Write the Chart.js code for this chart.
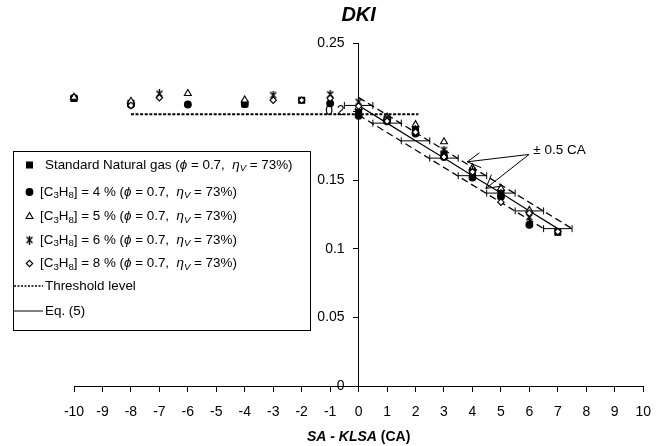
<!DOCTYPE html>
<html>
<head>
<meta charset="utf-8">
<script src="https://cdn.jsdelivr.net/npm/chart.js@4.4.1/dist/chart.umd.min.js"></script>
<style>
  html, body { margin: 0; padding: 0; background: #fff; }
</style>
</head>
<body>
<canvas id="chart" width="664" height="446"></canvas>
<script>
// x positions (SA - KLSA, CA) and DKI values
const xValues = [-10, -8, -7, -6, -4, -3, -2, -1, 0, 1, 2, 3, 4, 5, 6, 7];
const standardNG = [0.2095, 0.206, null, null, 0.2055, null, 0.2083, null, 0.199, 0.194, 0.187, 0.169, 0.155, 0.141, null, 0.112];
const propane4 = [0.21, 0.205, null, 0.2052, 0.2055, null, null, 0.206, 0.197, 0.193, 0.184, 0.167, 0.152, 0.138, 0.1175, null];
const propane5 = [0.2105, 0.2075, null, 0.2132, 0.2085, null, null, null, 0.203, 0.196, 0.1905, 0.178, 0.159, 0.144, 0.128, null];
const propane6 = [null, null, 0.213, null, null, 0.212, null, 0.2125, 0.207, 0.195, 0.187, 0.172, 0.157, 0.14, 0.123, null];
const propane8 = [null, 0.2045, 0.2101, null, null, 0.2083, 0.2083, 0.2097, 0.204, 0.193, 0.185, 0.167, 0.156, 0.134, 0.126, 0.1125];

// threshold level
const thresholdX = [-8, 2.1];
const thresholdY = [0.198, 0.198];

// Eq. (5) and the +/- 0.5 CA band
const eqX = [0, 1, 2, 3, 4, 5, 6, 7];
const eqY = [0.2045, 0.1916, 0.1787, 0.1661, 0.1533, 0.1406, 0.1276, 0.1147];
const eqErr = 0.5;
const upperX = [0, 7.5];
const upperY = [0.2103, 0.1147];
const lowerX = [0, 6.5];
const lowerY = [0.1975, 0.1147];

// annotation "± 0.5 CA"
const noteText = '\u00b1 0.5 CA';
const noteAt = { x: 6.14, y: 0.172 };
const arrowFrom = { x: 5.99, y: 0.1688 };
const arrowTips = [{ x: 3.82, y: 0.1634 }, { x: 4.47, y: 0.144 }];

const FONT = '"Liberation Sans", Arial, sans-serif';
const BLACK = '#000';

function pts(xs, ys) {
  const out = [];
  xs.forEach((x, i) => { if (ys[i] !== null) out.push({ x: x, y: ys[i] }); });
  return out;
}

// Excel-like star marker: x with a vertical bar
function starMarker() {
  const c = document.createElement('canvas');
  c.width = 9; c.height = 9;
  const g = c.getContext('2d');
  g.strokeStyle = BLACK;
  g.lineWidth = 1.4;
  g.beginPath();
  g.moveTo(1.5, 1.5); g.lineTo(7.5, 7.5);
  g.moveTo(7.5, 1.5); g.lineTo(1.5, 7.5);
  g.moveTo(4.5, 0); g.lineTo(4.5, 9);
  g.stroke();
  return c;
}

const markerSets = [
  { data: standardNG, pointStyle: 'rect', pointRadius: 4.2, backgroundColor: BLACK, order: 5 },
  { data: propane4, pointStyle: 'circle', pointRadius: 3.4, backgroundColor: BLACK, order: 4 },
  { data: propane5, pointStyle: 'triangle', pointRadius: 4, backgroundColor: '#fff', order: 3 },
  { data: propane6, pointStyle: starMarker(), pointRadius: 4, backgroundColor: BLACK, order: 2 },
  { data: propane8, pointStyle: 'rectRot', pointRadius: 3.2, backgroundColor: '#fff', order: 1 }
];

const datasets = markerSets.map(m => ({
  data: pts(xValues, m.data),
  showLine: false,
  pointStyle: m.pointStyle,
  pointRadius: m.pointRadius,
  pointBackgroundColor: m.backgroundColor,
  pointBorderColor: BLACK,
  pointBorderWidth: 1.1,
  order: m.order,
  clip: false
}));

datasets.push(
  { data: pts(thresholdX, thresholdY), showLine: true, borderColor: BLACK, borderWidth: 2, borderDash: [3, 1.6], pointRadius: 0, order: 8, clip: false },
  { data: pts(eqX, eqY), showLine: true, borderColor: BLACK, borderWidth: 1.2, pointRadius: 0, order: 7, clip: false },
  { data: pts(upperX, upperY), showLine: true, borderColor: BLACK, borderWidth: 1.3, borderDash: [7, 4], pointRadius: 0, order: 9, clip: false },
  { data: pts(lowerX, lowerY), showLine: true, borderColor: BLACK, borderWidth: 1.3, borderDash: [7, 4], pointRadius: 0, order: 9, clip: false }
);

function drawRich(ctx, x, y, parts, size) {
  parts.forEach(p => {
    const fs = p.sub ? size * 0.72 : size;
    ctx.font = (p.it ? 'italic ' : '') + (p.bold ? 'bold ' : '') + fs + 'px ' + FONT;
    ctx.fillText(p.t, x, y + (p.sub ? size * 0.28 : 0));
    x += ctx.measureText(p.t).width;
  });
  return x;
}

function richWidth(ctx, parts, size) {
  let w = 0;
  parts.forEach(p => {
    const fs = p.sub ? size * 0.72 : size;
    ctx.font = (p.it ? 'italic ' : '') + (p.bold ? 'bold ' : '') + fs + 'px ' + FONT;
    w += ctx.measureText(p.t).width;
  });
  return w;
}

const conditions = [
  { t: ' (' }, { t: '\u03d5', it: true }, { t: ' = 0.7,  ' },
  { t: '\u03b7', it: true }, { t: 'V', it: true, sub: true }, { t: ' = 73%)' }
];
function propaneLabel(pct) {
  return [{ t: '[C' }, { t: '3', sub: true }, { t: 'H' }, { t: '8', sub: true }, { t: '] = ' + pct + ' %' }].concat(conditions);
}
const legendRows = [
  { parts: [{ t: 'Standard Natural gas' }].concat(conditions), y: 165, tx: 45, marker: 0 },
  { parts: propaneLabel(4), y: 192, tx: 40, marker: 1 },
  { parts: propaneLabel(5), y: 216.5, tx: 40, marker: 2 },
  { parts: propaneLabel(6), y: 240, tx: 40, marker: 3 },
  { parts: propaneLabel(8), y: 263.5, tx: 40, marker: 4 },
  { parts: [{ t: 'Threshold level' }], y: 286, tx: 45, line: 4 },
  { parts: [{ t: 'Eq. (5)' }], y: 311, tx: 45, line: 5 }
];

const decorPlugin = {
  id: 'decor',
  beforeDatasetsDraw(chart) {
    const { ctx, scales: { x, y } } = chart;
    ctx.save();
    ctx.fillStyle = BLACK;
    ctx.strokeStyle = BLACK;

    // y tick labels, left of the axis that crosses at x = 0
    const axisX = x.getPixelForValue(0);
    ctx.font = '14px ' + FONT;
    ctx.textAlign = 'right';
    ctx.textBaseline = 'middle';
    y.ticks.forEach(t => {
      ctx.fillText(String(parseFloat(t.value.toFixed(2))), axisX - 14, y.getPixelForValue(t.value));
    });

    // horizontal error bars of Eq. (5)
    ctx.lineWidth = 1;
    eqX.forEach((v, i) => {
      const x1 = x.getPixelForValue(v - eqErr);
      const x2 = x.getPixelForValue(v + eqErr);
      const py = y.getPixelForValue(eqY[i]);
      ctx.beginPath();
      ctx.moveTo(x1, py); ctx.lineTo(x2, py);
      ctx.moveTo(x1, py - 3.5); ctx.lineTo(x1, py + 3.5);
      ctx.moveTo(x2, py - 3.5); ctx.lineTo(x2, py + 3.5);
      ctx.stroke();
    });
    ctx.restore();
  },
  afterDatasetsDraw(chart) {
    const { ctx, scales: { x, y } } = chart;
    ctx.save();
    ctx.strokeStyle = BLACK;
    ctx.fillStyle = BLACK;
    ctx.lineWidth = 1;
    const ox = x.getPixelForValue(arrowFrom.x);
    const oy = y.getPixelForValue(arrowFrom.y);
    arrowTips.forEach(tip => {
      const tx = x.getPixelForValue(tip.x);
      const ty = y.getPixelForValue(tip.y);
      const ang = Math.atan2(oy - ty, ox - tx);
      ctx.beginPath();
      ctx.moveTo(ox, oy); ctx.lineTo(tx, ty);
      [-0.52, 0.52].forEach(d => {
        ctx.moveTo(tx, ty);
        ctx.lineTo(tx + 15 * Math.cos(ang + d), ty + 15 * Math.sin(ang + d));
      });
      ctx.stroke();
    });
    ctx.font = '13.5px ' + FONT;
    ctx.textBaseline = 'middle';
    ctx.textAlign = 'left';
    ctx.fillText(noteText, x.getPixelForValue(noteAt.x), y.getPixelForValue(noteAt.y));
    ctx.restore();
  },
  afterDraw(chart) {
    const { ctx, scales: { x } } = chart;
    ctx.save();
    ctx.fillStyle = BLACK;
    ctx.strokeStyle = BLACK;
    ctx.textBaseline = 'middle';
    const axisX = x.getPixelForValue(0);

    // chart title
    ctx.font = 'italic bold 20px ' + FONT;
    ctx.textAlign = 'center';
    ctx.fillText('DKI', axisX, 15);

    // axis title: SA - KLSA (CA)
    ctx.textAlign = 'left';
    const axisParts = [{ t: 'SA - KLSA', it: true, bold: true }, { t: ' (CA)', bold: true }];
    const w = richWidth(ctx, axisParts, 14);
    drawRich(ctx, axisX - w / 2, 437, axisParts, 14);

    // legend box
    ctx.lineWidth = 1;
    ctx.strokeRect(13.5, 151.5, 297, 179);
    legendRows.forEach(row => {
      if (row.marker !== undefined) {
        const ds = chart.data.datasets[row.marker];
        ctx.fillStyle = ds.pointBackgroundColor;
        ctx.strokeStyle = BLACK;
        ctx.lineWidth = ds.pointBorderWidth;
        Chart.helpers.drawPoint(ctx, { pointStyle: ds.pointStyle, radius: ds.pointRadius, rotation: 0, borderWidth: ds.pointBorderWidth }, 29.5, row.y);
      } else {
        ctx.strokeStyle = BLACK;
        ctx.lineWidth = row.line === 4 ? 1.3 : 1;
        ctx.setLineDash(row.line === 4 ? [2, 1.5] : []);
        ctx.beginPath();
        ctx.moveTo(14, row.y); ctx.lineTo(43, row.y);
        ctx.stroke();
        ctx.setLineDash([]);
      }
      ctx.fillStyle = BLACK;
      drawRich(ctx, row.tx, row.y, row.parts, 13.4);
    });
    ctx.restore();
  }
};

const tickFont = { family: FONT, size: 14 };

new Chart(document.getElementById('chart'), {
  type: 'scatter',
  data: { datasets: datasets },
  options: {
    responsive: false,
    animation: false,
    events: [],
    layout: { padding: { left: 74, right: 20, top: 43, bottom: 60 } },
    plugins: {
      legend: { display: false },
      tooltip: { enabled: false },
      title: { display: false }
    },
    scales: {
      x: {
        type: 'linear',
        position: { y: 0 },
        min: -10,
        max: 10,
        ticks: { stepSize: 1, color: BLACK, font: tickFont, padding: 13, maxRotation: 0, autoSkip: false },
        grid: { drawOnChartArea: false, drawTicks: true, tickLength: 5, tickColor: BLACK, color: BLACK },
        border: { color: BLACK, width: 1 }
      },
      y: {
        type: 'linear',
        position: { x: 0 },
        min: 0,
        max: 0.25,
        ticks: { stepSize: 0.05, display: false },
        grid: { drawOnChartArea: false, drawTicks: true, tickLength: 5, tickColor: BLACK, color: BLACK },
        border: { color: BLACK, width: 1 }
      }
    }
  },
  plugins: [decorPlugin]
});
</script>
</body>
</html>
